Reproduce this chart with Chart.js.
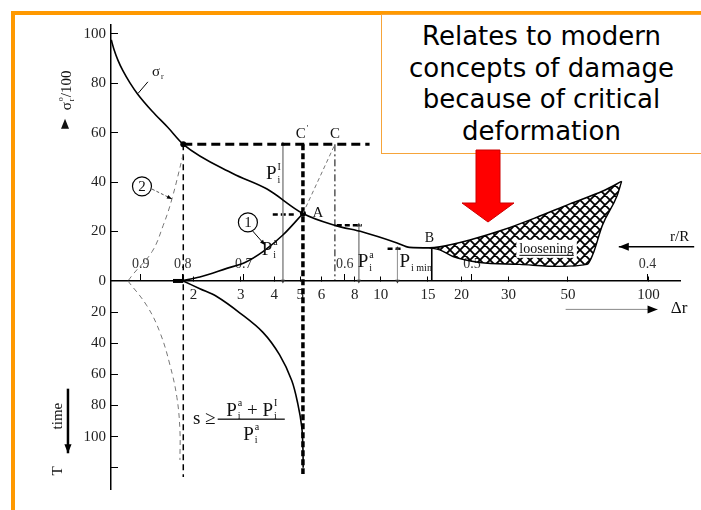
<!DOCTYPE html>
<html>
<head>
<meta charset="utf-8">
<script src="https://cdn.jsdelivr.net/npm/chart.js@4.4.0/dist/chart.umd.min.js"></script>
<style>
body{margin:0;background:#fff}
#wrap{position:relative;width:701px;height:510px;overflow:hidden;background:#fff}
#c{position:absolute;left:0;top:0}
.bar{position:absolute;background:#f90}
#note{position:absolute;left:381px;top:14px;width:330px;height:138px;background:#fff;border:1px solid #f6a43a}
#note div{position:absolute;left:0;top:6px;width:319px;text-align:center;font-family:"DejaVu Sans";font-size:26px;line-height:31.7px;color:#000}
#arrow{position:absolute;left:0;top:0}
</style>
</head>
<body>
<div id="wrap">
  <canvas id="c" width="701" height="510"></canvas>
  <div class="bar" style="left:11px;top:11px;width:4px;height:499px"></div>
  <div class="bar" style="left:11px;top:11px;width:690px;height:4px"></div>
  <div id="note"><div>Relates to modern<br>concepts of damage<br>because of critical<br>deformation</div></div>
  <svg id="arrow" width="701" height="510">
    <polygon points="476,150 500,150 500,203 514,203 488,222 462,203 476,203" fill="#ff0000" stroke="#cc0000" stroke-width="1"/>
  </svg>
</div>
<script>
var SERIF = '"Liberation Serif", "Times New Roman", serif'

// axes: Δr on a log scale, σ above the axis, time below it
var drTicks = [2, 3, 4, 5, 6, 8, 10, 15, 20, 30, 50, 100]
var rrLabels = ['0.9', '0.8', '0.7', '0.6', '0.5', '0.4']
var rrAt = [1.27, 1.82, 3.08, 7.34, 21.9, 99]      // Δr where each r/R mark sits
var sigmaTicks = [100, 80, 60, 40, 20, 0]
var timeTicks = [20, 40, 60, 80, 100, 120]
var timeLabels = ['20', '40', '60', '80', '100', '']
var K = 0.63   // one time unit in σ units (lower half is drawn tighter)

// curves [Δr, σ]
var sigmaR = [[0.985,97.6],[1.0086,93.7],[1.044,89.3],[1.09,85.0],[1.157,80.2],[1.239,75.5],[1.398,68.8],[1.604,62.1],[1.83,55.3],[2.8,43.5],[3.76,37.2],[5.12,27.3],[6.74,22.5],[8.56,19.8],[11.5,15.4],[12.8,13.6],[15.2,13.4],[16.6,13.8],[21.5,16.6],[28.5,20.6],[38.1,25.7],[50.8,31.2],[67.5,36.4],[79.3,40.3]]
var looseLow = [[15.2,13.4],[16.6,12.6],[18.6,9.9],[23.4,7.5],[33,6.7],[46.5,5.9],[58.9,6.7],[61.9,10.7],[67.2,22.5],[76.2,34.4],[79.3,40.3]]
var support1 = [[1.778,0],[2.11,1.6],[2.66,5.1],[3.11,7.5],[3.63,11.9],[4.31,18.6],[5.12,27.3]]
var support1Ext = [[5.12,27.3],[6.74,55.3]]
var support2 = [[1.83,51.4],[1.66,33.2],[1.54,22.5],[1.40,11.9],[1.19,2.8],[1.137,0]]
// curves [Δr, time]
var support2Time = [[1.137,0],[1.339,16],[1.497,33],[1.632,54],[1.733,75],[1.778,96],[1.778,115]]
var deformTime = [[1.83,0],[2.11,5],[2.44,10],[2.98,20.6],[3.63,33],[4.19,47.5],[4.65,64],[4.90,79],[5.07,94],[5.12,108],[5.13,120]]

// construction lines
var levelC = 55.3
var levelLine = [[1.83,levelC],[9.08,levelC]]
var dash08 = [1.83, levelC, 126]     // Δr, top σ, bottom time
var dashA = [5.12, levelC, 124]
var dashDotC = [6.74, levelC, 0]
var pArrows = [[4.31,levelC],[8.28,22.5],[11.54,13.0]]   // Δr, top σ
var bLine = [15.5, 13.4]
var shortDashes = [[3.95,4.8,26.9],[6.85,8.49,22.5],[10.6,12.1,13.0]]  // from Δr, to Δr, σ

function pts(a) { return a.map(function(p){ return {x: p[0], y: p[1]} }) }
function ptsT(a) { return a.map(function(p){ return {x: p[0], y: -p[1] * K} }) }

function makeHatch() {
  var c = document.createElement('canvas'); c.width = 10; c.height = 10
  var g = c.getContext('2d')
  g.strokeStyle = '#000'; g.lineWidth = 1.8
  g.beginPath()
  g.moveTo(0,0); g.lineTo(10,10); g.moveTo(10,0); g.lineTo(0,10)
  g.moveTo(-2,8); g.lineTo(2,12); g.moveTo(8,-2); g.lineTo(12,2)
  g.moveTo(-2,2); g.lineTo(2,-2); g.moveTo(8,12); g.lineTo(12,8)
  g.stroke()
  return g.createPattern(c, 'repeat')
}

var ds = []
ds.push({data: pts(sigmaR), borderColor:'#000', borderWidth:1.6, cubicInterpolationMode:'monotone'})
ds.push({data: pts(looseLow), borderColor:'#000', borderWidth:1.4, cubicInterpolationMode:'monotone', fill: 0, backgroundColor: makeHatch()})
ds.push({data: pts(support1), borderColor:'#000', borderWidth:1.6, cubicInterpolationMode:'monotone'})
ds.push({data: pts(support1Ext), borderColor:'#777', borderWidth:1, borderDash:[4,3]})
ds.push({data: pts(support2), borderColor:'#777', borderWidth:1, borderDash:[5,4], tension:0.4})
ds.push({data: ptsT(support2Time), borderColor:'#777', borderWidth:1, borderDash:[5,4], tension:0.4})
ds.push({data: ptsT(deformTime), borderColor:'#000', borderWidth:1.6, tension:0.35})
ds.push({data: pts(levelLine), borderColor:'#000', borderWidth:3, borderDash:[9,5]})
ds.push({data: [{x:dash08[0], y:dash08[1]}, {x:dash08[0], y:-dash08[2]*K}], borderColor:'#000', borderWidth:1.5, borderDash:[6,4]})
ds.push({data: [{x:dashA[0], y:dashA[1]}, {x:dashA[0], y:-dashA[2]*K}], borderColor:'#000', borderWidth:3.5, borderDash:[6,3]})
ds.push({data: [{x:dashDotC[0], y:dashDotC[1]}, {x:dashDotC[0], y:dashDotC[2]}], borderColor:'#000', borderWidth:1, borderDash:[7,3,2,3]})
pArrows.forEach(function(a){
  ds.push({data: [{x:a[0], y:a[1]}, {x:a[0], y:0}], borderColor:'#999', borderWidth:1,
    pointStyle:'triangle', pointRadius:[2.5,2.5], pointRotation:[0,180], pointBackgroundColor:'#333', pointBorderWidth:0})
})
ds.push({data: [{x:bLine[0], y:bLine[1]}, {x:bLine[0], y:0}], borderColor:'#000', borderWidth:1.6})
shortDashes.forEach(function(s){
  ds.push({data: [{x:s[0], y:s[2]}, {x:s[1], y:s[2]}], borderColor:'#000', borderWidth:2.5, borderDash:[5,3]})
})
ds.push({data: [{x:1.675, y:0}, {x:1.83, y:0}], borderColor:'#000', borderWidth:4})
ds.push({data: [{x:5.12, y:27.3}, {x:1.83, y:levelC}], showLine:false, pointRadius:3, pointBackgroundColor:'#000', pointBorderWidth:0})

// text notes at data positions [Δr, σ]
var notes = [
  {x:1.47, y:84.6, size:15, tk:[{t:'σ', sub:'r'}]},
  {x:5.83, y:27.6, size:15, tk:[{t:'A'}]},
  {x:15.2, y:17.4, size:14, tk:[{t:'B'}]},
  {x:5.08, y:59.3, size:15, tk:[{t:'C', sup:'\''}]},
  {x:6.74, y:59.3, size:15, tk:[{t:'C'}]},
  {x:3.97, y:43.1, size:19, tk:[{t:'P', sub:'i', sup:'I'}]},
  {x:3.85, y:12.6, size:19, tk:[{t:'P', sub:'i', sup:'a'}]},
  {x:8.79, y:7.5, size:19, tk:[{t:'P', sub:'i', sup:'a'}]},
  {x:13.5, y:7.5, size:19, tk:[{t:'P', sub:'i min'}]},
  {x:130.5, y:17.8, size:15, tk:[{t:'r/R'}]},
  {x:130, y:-11.1, size:17, tk:[{t:'Δr'}]}
]
var circled = [{x:1.283, y:38.3, t:'2'}, {x:3.19, y:23.7, t:'1'}]

function tokWidth(ctx, tk, size) {
  var w = 0
  tk.forEach(function(p){
    ctx.font = size + 'px ' + SERIF
    w += ctx.measureText(p.t).width
    if (p.sub || p.sup) {
      ctx.font = Math.round(size*0.55) + 'px ' + SERIF
      w += Math.max(p.sub ? ctx.measureText(p.sub).width : 0, p.sup ? ctx.measureText(p.sup).width : 0) + 1
    }
  })
  return w
}
function drawTok(ctx, tk, size, cx, cy) {
  var x = cx - tokWidth(ctx, tk, size) / 2
  ctx.textAlign = 'left'; ctx.textBaseline = 'middle'
  tk.forEach(function(p){
    ctx.font = size + 'px ' + SERIF
    ctx.fillText(p.t, x, cy)
    x += ctx.measureText(p.t).width
    if (p.sub || p.sup) {
      ctx.font = Math.round(size*0.55) + 'px ' + SERIF
      var ws = 0
      if (p.sup) { ctx.fillText(p.sup, x+1, cy - size*0.38); ws = ctx.measureText(p.sup).width }
      if (p.sub) { ctx.fillText(p.sub, x+1, cy + size*0.3); ws = Math.max(ws, ctx.measureText(p.sub).width) }
      x += ws + 1
    }
  })
}
function arrow(ctx, x1, y1, x2, y2, lw, color, head, dash) {
  ctx.save()
  ctx.strokeStyle = color; ctx.lineWidth = lw
  ctx.setLineDash(dash || [])
  ctx.beginPath(); ctx.moveTo(x1, y1); ctx.lineTo(x2, y2); ctx.stroke()
  ctx.setLineDash([])
  var a = Math.atan2(y2 - y1, x2 - x1)
  ctx.fillStyle = '#000'
  ctx.beginPath()
  ctx.moveTo(x2, y2)
  ctx.lineTo(x2 - head*Math.cos(a) + head*0.4*Math.sin(a), y2 - head*Math.sin(a) - head*0.4*Math.cos(a))
  ctx.lineTo(x2 - head*Math.cos(a) - head*0.4*Math.sin(a), y2 - head*Math.sin(a) + head*0.4*Math.cos(a))
  ctx.closePath(); ctx.fill()
  ctx.restore()
}

var notesPlugin = {
  id: 'notes',
  afterDraw: function(chart) {
    var ctx = chart.ctx, sx = chart.scales.x, sy = chart.scales.y
    function X(v) { return sx.getPixelForValue(v) }
    function Y(v) { return sy.getPixelForValue(v) }
    function YT(t) { return sy.getPixelForValue(-t * K) }
    ctx.save()
    ctx.fillStyle = '#111'

    // loosening label on white
    ctx.font = '14px ' + SERIF
    var lw = ctx.measureText('loosening').width
    var lx = X(41.6), ly = Y(13.0)
    ctx.fillStyle = '#fff'
    ctx.fillRect(lx - lw/2 - 3, ly - 9, lw + 6, 18)
    ctx.fillStyle = '#111'
    ctx.textAlign = 'center'; ctx.textBaseline = 'middle'
    ctx.fillText('loosening', lx, ly)
    ctx.fillRect(lx - lw/2, ly + 6, lw, 1)

    notes.forEach(function(n){ drawTok(ctx, n.tk, n.size, X(n.x), Y(n.y)) })

    // circled numbers
    circled.forEach(function(c){
      ctx.strokeStyle = '#000'; ctx.lineWidth = 1.2
      ctx.beginPath(); ctx.arc(X(c.x), Y(c.y), 9.5, 0, Math.PI*2); ctx.stroke()
      ctx.font = '15px ' + SERIF; ctx.textAlign = 'center'; ctx.textBaseline = 'middle'
      ctx.fillText(c.t, X(c.x), Y(c.y) + 1)
    })

    // leader lines
    ctx.strokeStyle = '#000'; ctx.lineWidth = 1
    ctx.beginPath(); ctx.moveTo(X(1.24), Y(75.9)); ctx.lineTo(X(1.35), Y(80.6)); ctx.stroke()
    arrow(ctx, X(1.398), Y(37.2), X(1.66), Y(33.2), 1, '#555', 5, [3,2])
    arrow(ctx, X(3.30), Y(20.6), X(3.69), Y(14.6), 1, '#000', 5)

    // r/R and Δr direction arrows
    arrow(ctx, X(148), Y(13.8), X(77.4), Y(13.8), 1.5, '#000', 10)
    arrow(ctx, X(49), Y(-11.5), X(108), Y(-11.5), 1, '#888', 10)

    // fraction: s ≥ (Pa + PI) / Pa
    drawTok(ctx, [{t:'s ≥'}], 19, X(2.19), YT(88.7))
    drawTok(ctx, [{t:'P', sub:'i', sup:'a'}, {t:' + '}, {t:'P', sub:'i', sup:'I'}], 19, X(3.30), YT(83.6))
    drawTok(ctx, [{t:'P', sub:'i', sup:'a'}], 19, X(3.28), YT(98.7))
    ctx.fillRect(X(2.46), YT(88.7) - 0.5, X(4.38) - X(2.46), 1.3)

    // rotated axis captions left of the axis
    function rot(tk, size, x, y) {
      ctx.save(); ctx.translate(x, y); ctx.rotate(-Math.PI/2)
      drawTok(ctx, tk, size, 0, 0); ctx.restore()
    }
    rot([{t:'σ', sup:'o', sub:'r'}, {t:'/100'}], 15, X(0.673), Y(77.1))
    rot([{t:'time'}], 15, X(0.623), YT(86.8))
    rot([{t:'T'}], 15, X(0.623), YT(122))
    arrow(ctx, X(0.679), YT(69.2), X(0.679), YT(110.7), 2.5, '#000', 9)
    var tx = X(0.662), ty = Y(63.2)
    ctx.beginPath(); ctx.moveTo(tx, ty - 6); ctx.lineTo(tx + 4, ty + 4); ctx.lineTo(tx - 4, ty + 4); ctx.closePath(); ctx.fill()
    ctx.restore()
  }
}

Chart.defaults.font.family = SERIF

new Chart(document.getElementById('c'), {
  type: 'line',
  data: { datasets: ds },
  options: {
    responsive: false,
    animation: false,
    layout: { padding: { left: 0, right: 21, top: 25, bottom: 10 } },
    elements: { point: { radius: 0 }, line: { fill: false } },
    plugins: { legend: { display: false }, tooltip: { enabled: false } },
    scales: {
      x: {
        type: 'logarithmic', min: 0.983, max: 131, position: { y: 0 },
        border: { color: '#000', width: 1.5 },
        grid: { drawOnChartArea: false, tickLength: -5, color: '#000' },
        ticks: { autoSkip: false, maxRotation: 0, padding: 10, color: '#222', font: { size: 15 },
          callback: function(v) { return String(v) } },
        afterBuildTicks: function(s) { s.ticks = drTicks.map(function(v){ return {value: v} }) },
        afterFit: function(s) { s.height = 0 }
      },
      rr: {
        axis: 'x', type: 'logarithmic', min: 0.983, max: 131, position: { y: 0 }, z: 1,
        border: { display: false },
        grid: { drawOnChartArea: false, tickLength: -7, color: '#000' },
        ticks: { autoSkip: false, maxRotation: 0, padding: -18, color: '#333', font: { size: 14 },
          callback: function(v, i) { return rrLabels[i] } },
        afterBuildTicks: function(s) { s.ticks = rrAt.map(function(v){ return {value: v} }) },
        afterFit: function(s) { s.height = 0 }
      },
      y: {
        min: -84.2, max: 103.6,
        border: { color: '#000', width: 1.5 },
        grid: { drawOnChartArea: false, tickLength: -7, color: '#000' },
        ticks: { autoSkip: false, padding: 12, color: '#222', font: { size: 15 },
          callback: function(v, i) { return i < sigmaTicks.length ? String(sigmaTicks[i]) : timeLabels[i - sigmaTicks.length] } },
        afterBuildTicks: function(s) {
          s.ticks = sigmaTicks.map(function(v){ return {value: v} })
            .concat(timeTicks.map(function(t){ return {value: -t * K} }))
        },
        afterFit: function(s) { s.width = 111 }
      }
    }
  },
  plugins: [notesPlugin]
})
</script>
</body>
</html>
